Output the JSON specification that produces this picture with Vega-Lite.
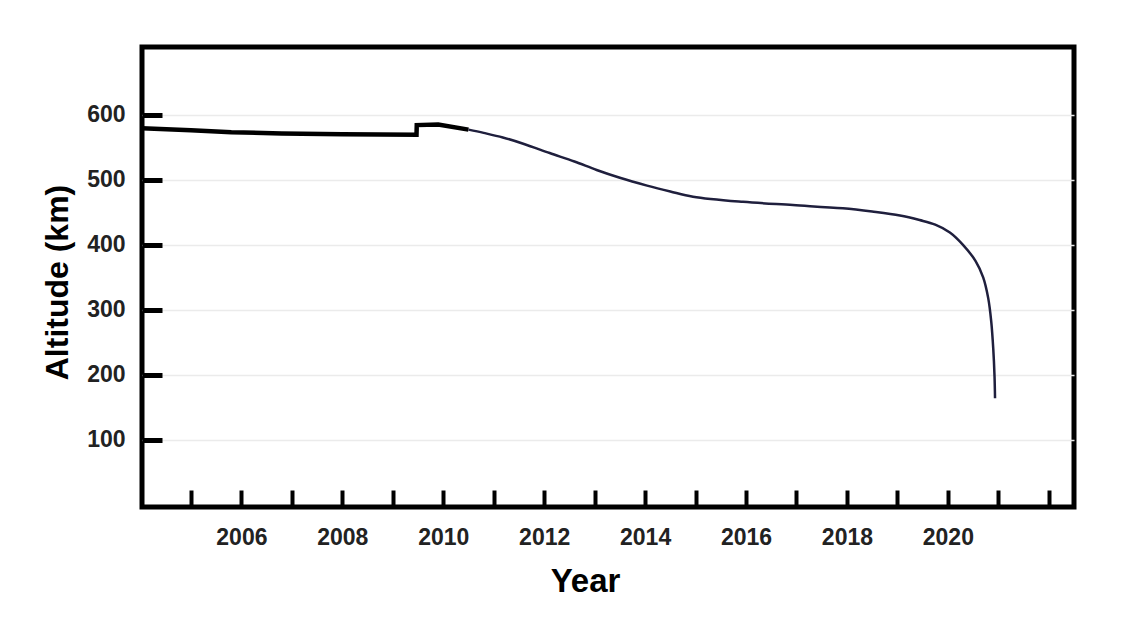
{
  "$schema": "https://vega.github.io/schema/vega-lite/v6.json",
  "width": 932,
  "height": 460,
  "autosize": {"type": "none"},
  "padding": {"left": 142, "top": 47, "right": 63, "bottom": 116},
  "background": "white",
  "config": {
    "view": {"stroke": "black", "strokeWidth": 5},
    "font": "Liberation Sans"
  },
  "data": {
    "values": [
      {"year": 2004.03, "alt": 579, "seg": "a"},
      {"year": 2005.0, "alt": 576, "seg": "a"},
      {"year": 2005.8, "alt": 573, "seg": "a"},
      {"year": 2006.8, "alt": 571, "seg": "a"},
      {"year": 2008.0, "alt": 570, "seg": "a"},
      {"year": 2009.47, "alt": 569, "seg": "a"},
      {"year": 2009.475, "alt": 584, "seg": "a"},
      {"year": 2009.9, "alt": 585, "seg": "a"},
      {"year": 2010.5, "alt": 577, "seg": "a"},
      {"year": 2010.5, "alt": 577, "seg": "b"},
      {"year": 2010.8, "alt": 572, "seg": "b"},
      {"year": 2011.18, "alt": 565, "seg": "b"},
      {"year": 2011.6, "alt": 555, "seg": "b"},
      {"year": 2012.11, "alt": 541, "seg": "b"},
      {"year": 2012.6, "alt": 528, "seg": "b"},
      {"year": 2013.04, "alt": 515, "seg": "b"},
      {"year": 2013.5, "alt": 503, "seg": "b"},
      {"year": 2014.04, "alt": 491, "seg": "b"},
      {"year": 2014.5, "alt": 482, "seg": "b"},
      {"year": 2014.95, "alt": 474, "seg": "b"},
      {"year": 2015.94, "alt": 466, "seg": "b"},
      {"year": 2016.93, "alt": 461, "seg": "b"},
      {"year": 2017.92, "alt": 456, "seg": "b"},
      {"year": 2018.5, "alt": 451, "seg": "b"},
      {"year": 2019.05, "alt": 445, "seg": "b"},
      {"year": 2019.44, "alt": 438, "seg": "b"},
      {"year": 2019.75, "alt": 431, "seg": "b"},
      {"year": 2020.04, "alt": 419, "seg": "b"},
      {"year": 2020.3, "alt": 400, "seg": "b"},
      {"year": 2020.55, "alt": 375, "seg": "b"},
      {"year": 2020.7, "alt": 350, "seg": "b"},
      {"year": 2020.8, "alt": 318, "seg": "b"},
      {"year": 2020.86, "alt": 282, "seg": "b"},
      {"year": 2020.9, "alt": 240, "seg": "b"},
      {"year": 2020.925, "alt": 198, "seg": "b"},
      {"year": 2020.935, "alt": 164, "seg": "b"}
    ]
  },
  "encoding": {
    "x": {
      "field": "year",
      "type": "quantitative",
      "scale": {"domain": [2004.03, 2022.5], "nice": false, "zero": false},
      "axis": {
        "title": "Year",
        "titleFont": "Liberation Sans",
        "titleFontSize": 33,
        "titleFontWeight": "bold",
        "titleColor": "black",
        "titleX": 443,
        "titleY": 74,
        "titleAlign": "center",
        "titleBaseline": "middle",
        "values": [2005, 2006, 2007, 2008, 2009, 2010, 2011, 2012, 2013, 2014, 2015, 2016, 2017, 2018, 2019, 2020, 2021, 2022],
        "labelExpr": "datum.value % 2 == 0 && datum.value <= 2020 ? format(datum.value, 'd') : ''",
        "labelFont": "Liberation Sans",
        "labelFontSize": 23,
        "labelFontWeight": "bold",
        "labelColor": "#222222",
        "labelPadding": 36,
        "labelOverlap": false,
        "domain": false,
        "grid": false,
        "ticks": true,
        "tickSize": -17,
        "tickWidth": 4,
        "tickColor": "black"
      }
    },
    "y": {
      "field": "alt",
      "type": "quantitative",
      "scale": {"domain": [-3, 704], "nice": false, "zero": false},
      "axis": {
        "title": "Altitude (km)",
        "titleFont": "Liberation Sans",
        "titleFontSize": 32,
        "titleFontWeight": "bold",
        "titleColor": "black",
        "titleX": -85,
        "titleY": 235,
        "titleAngle": -90,
        "titleAlign": "center",
        "titleBaseline": "middle",
        "values": [100, 200, 300, 400, 500, 600],
        "format": "d",
        "labelFont": "Liberation Sans",
        "labelFontSize": 23,
        "labelFontWeight": "bold",
        "labelColor": "#222222",
        "labelPadding": 37,
        "domain": false,
        "grid": true,
        "gridColor": "#ebebeb",
        "gridWidth": 1.5,
        "ticks": true,
        "tickSize": -20,
        "tickWidth": 5,
        "tickColor": "black"
      }
    }
  },
  "layer": [
    {
      "transform": [{"filter": "datum.seg == 'a'"}],
      "mark": {"type": "line", "color": "black", "strokeWidth": 4.5, "strokeJoin": "miter", "interpolate": "linear"}
    },
    {
      "transform": [{"filter": "datum.seg == 'b'"}],
      "mark": {"type": "line", "color": "#1f1f3d", "strokeWidth": 2.5, "interpolate": "catmull-rom"}
    }
  ]
}
